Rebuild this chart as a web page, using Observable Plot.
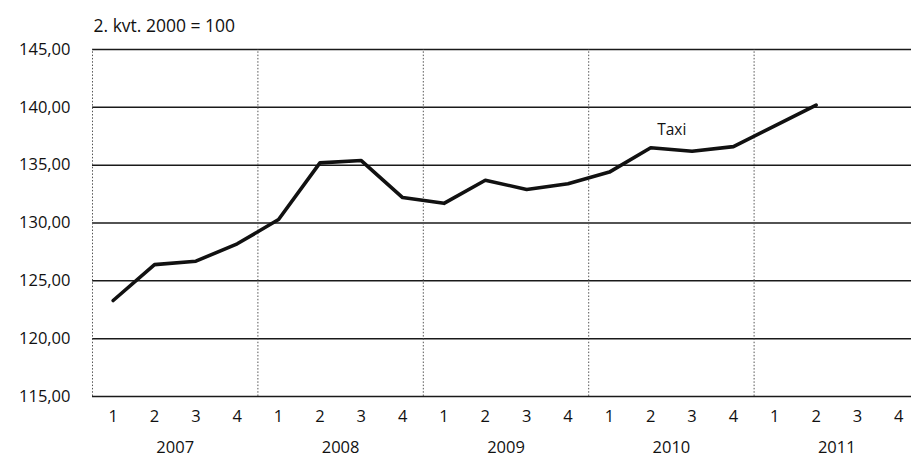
<!DOCTYPE html>
<html>
<head>
<meta charset="utf-8">
<script src="https://cdn.jsdelivr.net/npm/d3@7"></script>
<script src="https://cdn.jsdelivr.net/npm/@observablehq/plot@0.6"></script>
<style>
  body { margin: 0; background: #fff; }
  #chart svg { display: block; }
</style>
</head>
<body>
<div id="chart"></div>
<script>
// ---- data ----
const years = ["2007", "2008", "2009", "2010", "2011"];
const quarterLabels = ["1", "2", "3", "4"];
const taxi = [123.3, 126.4, 126.7, 128.2, 130.3, 135.2, 135.4, 132.2, 131.7, 133.7,
              132.9, 133.4, 134.4, 136.5, 136.2, 136.6, 138.4, 140.2];
const yTicks = [115, 120, 125, 130, 135, 140, 145];
const title = "2. kvt. 2000 = 100";
const seriesName = "Taxi";
const labelQuarter = 13; // series label sits near 2. kvt. 2010

// ---- derived tables ----
const quarters = years.flatMap(y => quarterLabels.map(q => ({year: y, q})));
const nQ = quarters.length;
const data = taxi.map((v, i) => ({i, v}));
const yearCenters = years.map((_, k) => 4 * k + 1.5);
const yearBounds = years.map((_, k) => 4 * k - 0.5);
const fmt = d => d.toFixed(2).replace(".", ",");

const chart = Plot.plot({
  width: 911,
  height: 465,
  marginLeft: 92,
  marginRight: -8,
  marginTop: 49,
  marginBottom: 69,
  style: {fontFamily: "'Open Sans', sans-serif", color: "#111", background: "#fff", overflow: "hidden"},
  x: {domain: [-0.5, nQ - 0.5], axis: null},
  y: {domain: [115, 145], axis: null},
  marks: [
    Plot.ruleY(yTicks, {stroke: "#1a1a1a", strokeWidth: 1.5}),
    Plot.ruleX(yearBounds, {y1: 115, y2: 145, stroke: "#555", strokeWidth: 1, strokeDasharray: "1.5,1.8"}),
    Plot.axisY({ticks: yTicks, tickFormat: fmt, tickSize: 0, tickPadding: 22, fontSize: 16.5, label: null}),
    Plot.axisX(d3.range(nQ), {tickFormat: i => quarters[i].q, tickSize: 0, tickPadding: 14, fontSize: 16.5, label: null}),
    Plot.axisX(yearCenters, {tickFormat: (v, k) => years[k], tickSize: 0, tickPadding: 45, fontSize: 16.5, label: null}),
    Plot.line(data, {x: "i", y: "v", stroke: "#111", strokeWidth: 3.6, strokeLinejoin: "round", strokeLinecap: "round"}),
    Plot.text(data.filter(d => d.i === labelQuarter), {x: "i", y: "v", text: () => seriesName, dx: 21, dy: -18, fontSize: 15.5, fill: "#111"}),
    Plot.text([title], {frameAnchor: "top-left", dx: 1, dy: -18, lineAnchor: "bottom", textAnchor: "start", fontSize: 17.5, fill: "#111"})
  ]
});
document.getElementById("chart").appendChild(chart);
</script>
</body>
</html>
